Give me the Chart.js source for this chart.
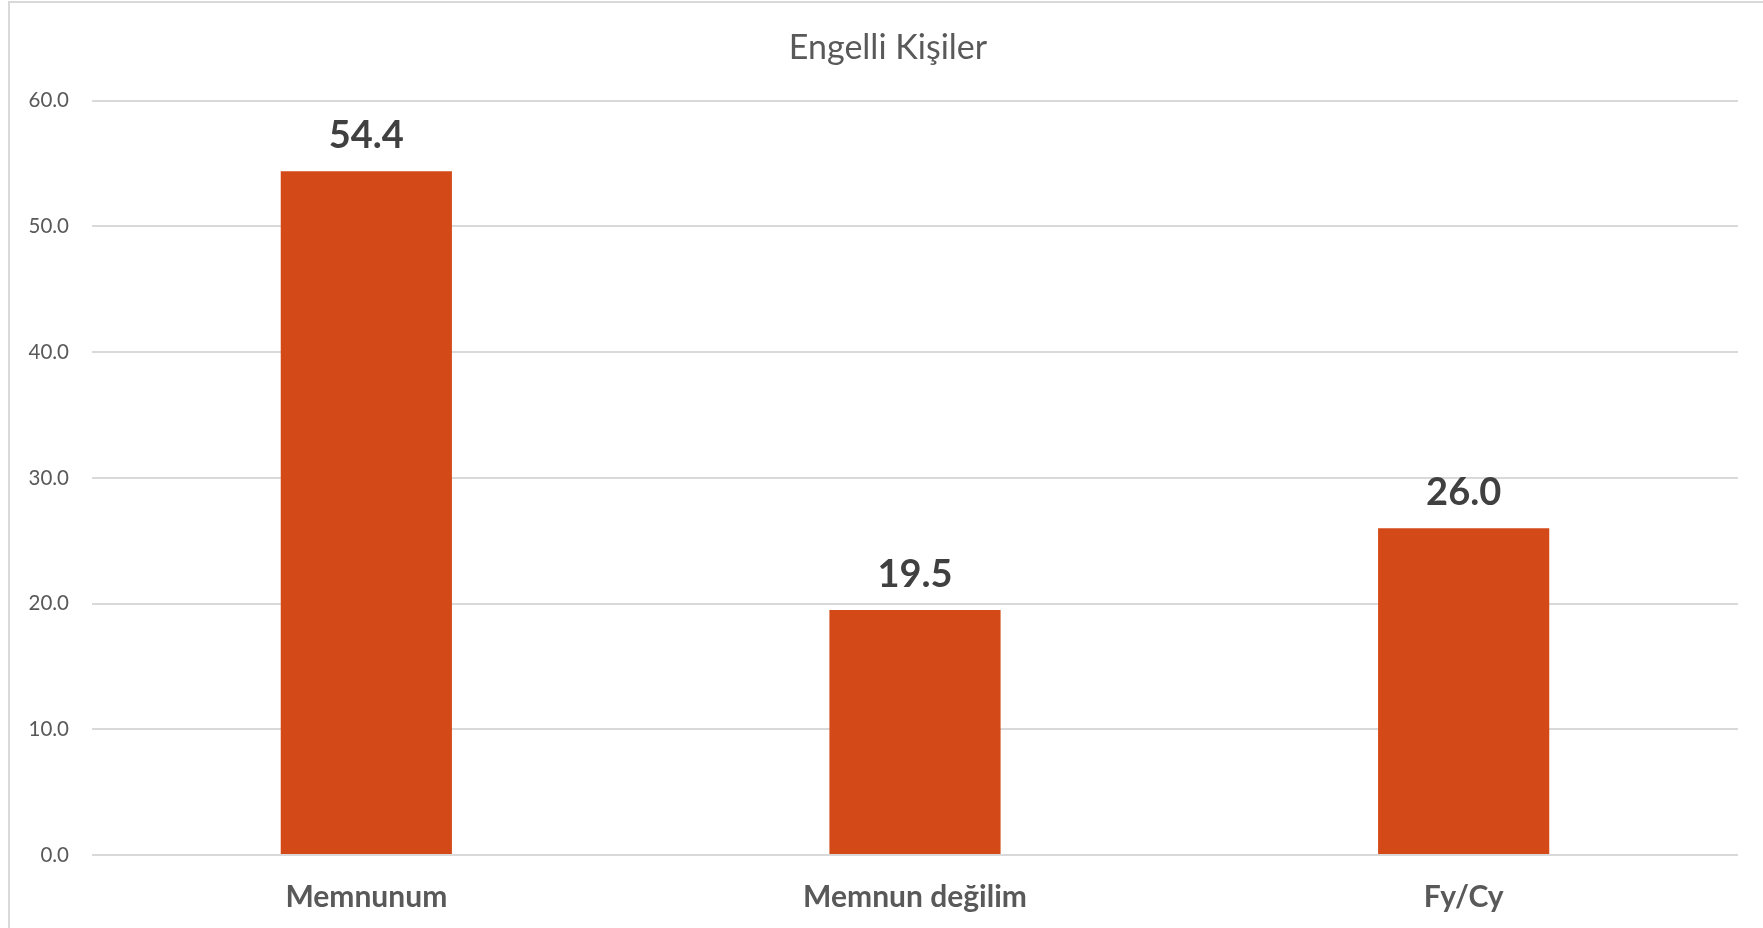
<!DOCTYPE html>
<html>
<head>
<meta charset="utf-8">
<script src="https://cdn.jsdelivr.net/npm/chart.js@4"></script>
<style>
  html, body { margin: 0; padding: 0; background: #fff; overflow: hidden; }
  #wrap { position: relative; width: 1763px; height: 928px; }
  #frame { position: absolute; left: 8px; top: 1px; width: 2000px; height: 2000px;
           border: 2px solid #d9d9d9; box-sizing: border-box; }
  canvas { position: absolute; left: 0; top: 0; }
</style>
</head>
<body>
<div id="wrap">
  <div id="frame"></div>
  <canvas id="chart" width="1763" height="928"></canvas>
</div>
<script>
// chart data
const categories = ['Memnunum', 'Memnun değilim', 'Fy/Cy'];
const values = [54.4, 19.5, 26.0];
const yTicks = [0, 10, 20, 30, 40, 50, 60];

// value labels above each bar
const barLabels = {
    id: 'barLabels',
    afterDatasetsDraw(chart) {
        const c = chart.ctx;
        const meta = chart.getDatasetMeta(0);
        c.save();
        c.font = 'bold 38px Lato';
        c.fillStyle = '#404040';
        c.textAlign = 'center';
        c.textBaseline = 'alphabetic';
        meta.data.forEach((bar, i) => {
            c.fillText(values[i].toFixed(1), bar.x, bar.y - 23);
        });
        c.restore();
    }
};

// title in the original sits a bit right of the canvas centre
const shiftTitle = {
    id: 'shiftTitle',
    afterLayout(chart) {
        if (chart.titleBlock) chart.titleBlock.left += 38;
    }
};

const ctx = document.getElementById('chart').getContext('2d');
const chart = new Chart(ctx, {
    type: 'bar',
    data: {
        labels: categories,
        datasets: [{
            data: values,
            backgroundColor: '#D34917',
            categoryPercentage: 1,
            barPercentage: 0.312
        }]
    },
    options: {
        responsive: false,
        animation: false,
        layout: { padding: { left: 0, right: 25, top: 0, bottom: 0 } },
        plugins: {
            legend: { display: false },
            tooltip: { enabled: false },
            title: {
                display: true,
                text: 'Engelli Kişiler',
                color: '#595959',
                font: { family: 'Lato', size: 34, weight: 'normal' },
                padding: { top: 28, bottom: 32 }
            }
        },
        scales: {
            x: {
                grid: { display: false },
                border: { display: false },
                ticks: {
                    color: '#595959',
                    font: { family: 'Lato', size: 30, weight: 'bold' },
                    padding: 16
                },
                afterFit(scale) { scale.height = 73; }
            },
            y: {
                min: 0,
                max: 60,
                afterBuildTicks(scale) { scale.ticks = yTicks.map(v => ({ value: v })); },
                grid: { color: '#d9d9d9', lineWidth: 2, drawTicks: false },
                border: { display: false },
                ticks: {
                    color: '#595959',
                    font: { family: 'Lato', size: 20.5 },
                    padding: 23,
                    callback: v => v.toFixed(1)
                },
                afterFit(scale) { scale.width = 92; }
            }
        }
    },
    plugins: [barLabels, shiftTitle]
});
</script>
</body>
</html>
